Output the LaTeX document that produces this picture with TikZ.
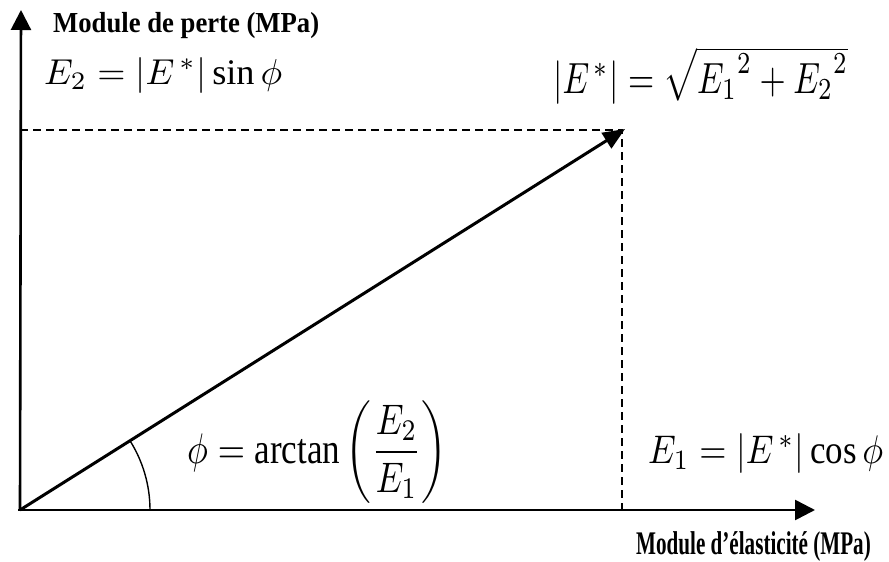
\documentclass[tikz,border=0pt]{standalone}
\usepackage{fontspec}
\setmainfont{Liberation Serif}
\usepackage{graphicx}
\usetikzlibrary{arrows.meta}
\tikzset{
  axis/.style={line width=2.6pt, -{Triangle[length=20pt,width=20pt]}},
  vect/.style={line width=3pt, -{Triangle[length=22pt,width=18pt]}},
  guide/.style={line width=2pt, dash pattern=on 8pt off 5pt},
  lbl/.style={anchor=base west, inner sep=0pt},
  eq/.style={anchor=base west, inner sep=0pt}
}
\begin{document}
\begin{tikzpicture}[x=1pt,y=-1pt]
\useasboundingbox (0,0) rectangle (889,562);
\coordinate (O) at (20,510);
\coordinate (Y) at (21,10);
\coordinate (X) at (815,510);
\coordinate (P) at (625,129);
\coordinate (Py) at (20,130);
\coordinate (Px) at (622,510);
\coordinate (Pc) at (622,130);
\draw[guide] (Py) -- (Pc) -- (Px);
\draw[axis] (O) -- (Y);
\draw[axis] (18,510) -- (X);
\draw[vect] (O) -- (P);
\draw[line width=1.4pt] (150,510) arc[start angle=0, end angle=-32.4, radius=130];
\node[lbl] (ly) at (53,32) {\scalebox{0.92}[1]{\fontsize{29}{32}\selectfont\bfseries Module de perte (MPa)}};
\node[eq] (e2) at (44,84) {\resizebox{238pt}{27pt}{$E_2 = \left|E^{\,*}\right|\sin\phi$}};
\node[eq] (emod) at (553,93) {\resizebox{295pt}{46pt}{$\left|E^{\,*}\right| = \sqrt{{E_1}^{2} + {E_2}^{2}}$}};
\node[eq] (phi) at (187,463) {\resizebox{260pt}{62pt}{$\displaystyle\phi = \arctan\left(\frac{E_2}{E_1}\right)$}};
\node[eq] (e1) at (648,463) {\resizebox{235pt}{30pt}{$E_1 = \left|E^{\,*}\right|\cos\phi$}};
\node[lbl] (lx) at (636,554) {\scalebox{0.64}[1]{\fontsize{33}{36}\selectfont\bfseries Module d’élasticité (MPa)}};
\end{tikzpicture}
\end{document}
